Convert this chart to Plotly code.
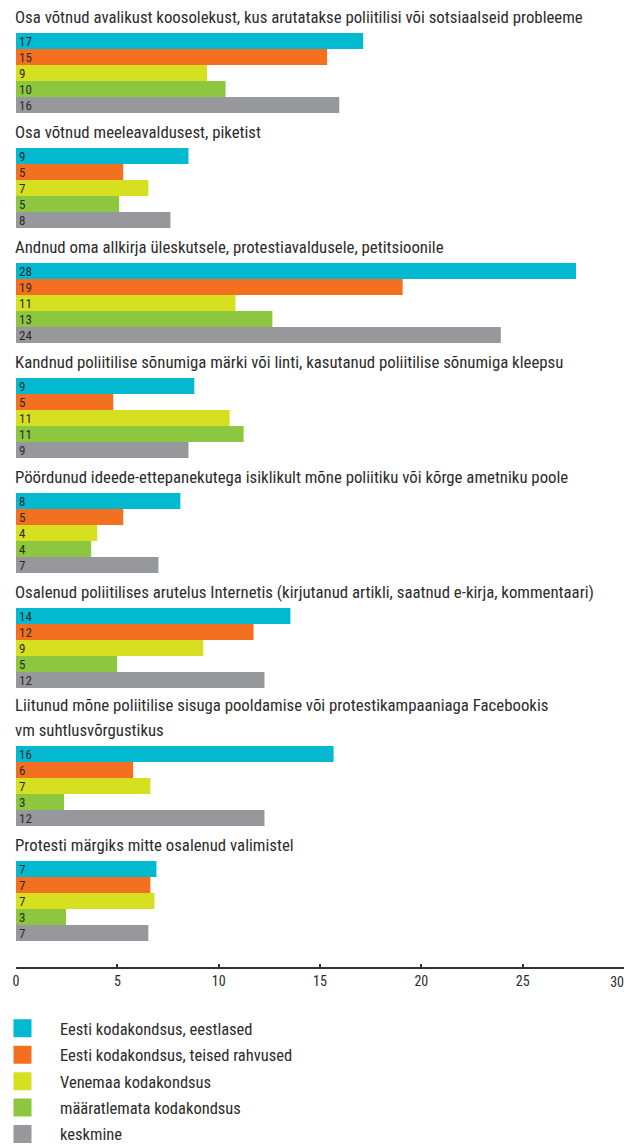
import plotly.graph_objects as go

# ---------------- data ----------------
categories = [
    "Osa võtnud avalikust koosolekust, kus arutatakse poliitilisi või sotsiaalseid probleeme",
    "Osa võtnud meeleavaldusest, piketist",
    "Andnud oma allkirja üleskutsele, protestiavaldusele, petitsioonile",
    "Kandnud poliitilise sõnumiga märki või linti, kasutanud poliitilise sõnumiga kleepsu",
    "Pöördunud ideede-ettepanekutega isiklikult mõne poliitiku või kõrge ametniku poole",
    "Osalenud poliitilises arutelus Internetis (kirjutanud artikli, saatnud e-kirja, kommentaari)",
    "Liitunud mõne poliitilise sisuga pooldamise või protestikampaaniaga Facebookis<br>vm suhtlusvõrgustikus",
    "Protesti märgiks mitte osalenud valimistel",
]

series_names = [
    "Eesti kodakondsus, eestlased",
    "Eesti kodakondsus, teised rahvused",
    "Venemaa kodakondsus",
    "määratlemata kodakondsus",
    "keskmine",
]

eestlased      = [17.13, 8.51, 27.63, 8.80, 8.11, 13.54, 15.67, 6.93]
teised         = [15.35, 5.29, 19.08, 4.80, 5.29, 11.72, 5.78, 6.63]
venemaa        = [9.43, 6.53, 10.83, 10.54, 4.01, 9.24, 6.63, 6.83]
maaratlemata   = [10.34, 5.09, 12.65, 11.23, 3.71, 4.99, 2.37, 2.47]
keskmine       = [15.95, 7.62, 23.92, 8.51, 7.03, 12.26, 12.26, 6.53]

eestlased_lbl    = [17, 9, 28, 9, 8, 14, 16, 7]
teised_lbl       = [15, 5, 19, 5, 5, 12, 6, 7]
venemaa_lbl      = [9, 7, 11, 11, 4, 9, 7, 7]
maaratlemata_lbl = [10, 5, 13, 11, 4, 5, 3, 3]
keskmine_lbl     = [16, 8, 24, 9, 7, 12, 12, 7]

x_ticks = [0, 5, 10, 15, 20, 25, 30]

# ---------------- style ----------------
colors = ["#03B9CF", "#F37021", "#D7DF21", "#8DC63F", "#97989B"]
FONT = "Roboto Condensed"
TEXT = "#2B2B2B"

values = [eestlased, teised, venemaa, maaratlemata, keskmine]
labels = [eestlased_lbl, teised_lbl, venemaa_lbl, maaratlemata_lbl, keskmine_lbl]

W, H = 626, 1146
M_L, M_R, M_T, M_B = 16, 2, 0, 179
PLOT_W = W - M_L - M_R
PLOT_H = H - M_T - M_B

BAR_H = 16          # y-units == pixels
GROUP_STEP = 115
LINE_EXTRA = 23
TITLE_LINE = 25

# vertical layout of the groups (in pixel-like y units)
tops = []
t = 33
for title in categories:
    t += LINE_EXTRA * title.count("<br>")
    tops.append(t)
    t += GROUP_STEP

fig = go.Figure()

for s, name in enumerate(series_names):
    ys = [tops[g] + BAR_H * (s + 0.5) for g in range(len(categories))]
    fig.add_trace(go.Bar(
        x=values[s], y=ys, orientation="h", width=BAR_H,
        marker=dict(color=colors[s], line=dict(width=0)),
        text=[str(v) for v in labels[s]],
        textposition="inside", insidetextanchor="start",
        textangle=0, constraintext="none",
        textfont=dict(family=FONT, size=13, color=TEXT),
        name=name, showlegend=False, hoverinfo="skip",
    ))

# legend entries (placed on the overlay axis, no visible marks)
for s, name in enumerate(series_names):
    fig.add_trace(go.Scatter(
        x=[None], y=[None], mode="markers", name=name,
        xaxis="x2", legendgroup=f"s{s}",
        marker=dict(symbol="square", size=20, color=colors[s],
                    line=dict(color=colors[s], width=2)),
    ))

for g, title in enumerate(categories):
    lines = title.split("<br>")
    n = len(lines)
    for i, line in enumerate(lines):
        fig.add_annotation(
            x=0, xref="paper", xanchor="left", xshift=-3,
            y=tops[g] - 16 - TITLE_LINE * (n - 1 - i), yref="y", yanchor="middle",
            text=line, showarrow=False, align="left",
            font=dict(family=FONT, size=16.8, color=TEXT),
        )

# main axis: all tick marks, labels except the last one
main_text = [str(v) for v in x_ticks[:-1]] + [""]
tickfont = dict(family=FONT, size=14, color=TEXT)

fig.update_layout(
    width=W, height=H,
    margin=dict(l=M_L, r=M_R, t=M_T, b=M_B, autoexpand=False),
    paper_bgcolor="white", plot_bgcolor="white",
    barmode="overlay",
    showlegend=True,
    legend=dict(
        x=-31 / PLOT_W, xanchor="left",
        y=-44 / PLOT_H, yanchor="top",
        orientation="v", traceorder="grouped", tracegroupgap=2,
        itemwidth=65,
        font=dict(family=FONT, size=16.5, color=TEXT),
        bgcolor="rgba(0,0,0,0)",
    ),
    xaxis=dict(
        range=[0, 30], tickvals=x_ticks, ticktext=main_text,
        showgrid=False, zeroline=False,
        showline=True, linecolor="#333333", linewidth=2,
        ticks="inside", ticklen=3, tickwidth=2, tickcolor="#333333",
        tickfont=tickfont,
        fixedrange=True,
    ),
    # overlay axis carrying only the last label, right-aligned to its tick
    xaxis2=dict(
        overlaying="x", anchor="y", side="bottom",
        range=[0, 30], tickvals=[x_ticks[-1]], ticktext=[str(x_ticks[-1])],
        ticklabelposition="outside left", ticklabelstandoff=5,
        showgrid=False, zeroline=False, showline=False, ticks="",
        tickfont=tickfont,
        fixedrange=True,
    ),
    yaxis=dict(range=[PLOT_H, 0], visible=False, fixedrange=True),
)

fig.write_html(
    "out.html",
    config={"displayModeBar": False},
    post_script="document.body.style.margin='0';document.body.style.overflow='hidden';",
)
